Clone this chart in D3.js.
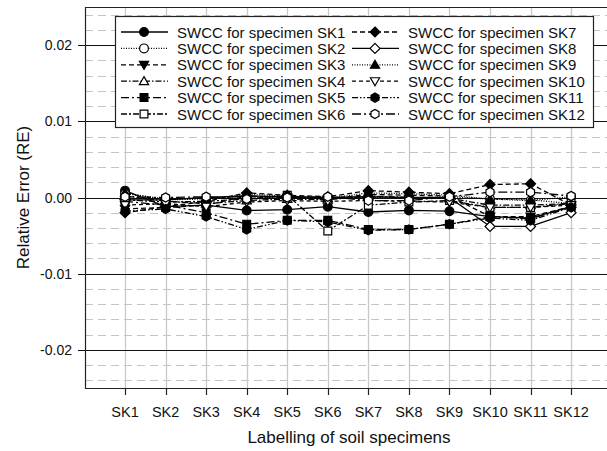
<!DOCTYPE html>
<html>
<head>
<meta charset="utf-8">
<script src="https://cdn.jsdelivr.net/npm/d3@7"></script>
<style>
  body { margin: 0; background: white; }
  svg { display: block; font-family: "Liberation Sans", Arial, sans-serif; }
</style>
</head>
<body>
<svg id="chart"></svg>
<script>
// categories on the x axis
var specimens = ["SK1","SK2","SK3","SK4","SK5","SK6","SK7","SK8","SK9","SK10","SK11","SK12"];
var yTicks = [-0.02, -0.01, 0.00, 0.01, 0.02];

// relative error for each SWCC
var sk1  = [ 0.0009,-0.0012,-0.0010,-0.0017,-0.0016,-0.0012,-0.0019,-0.0017,-0.0018,-0.0025,-0.0027,-0.0012];
var sk2  = [ 0.0005,-0.0002,-0.0001,-0.0001, 0.0001,-0.0001, 0.0000,-0.0001, 0.0001,-0.0002,-0.0004, 0.0001];
var sk3  = [-0.0015,-0.0013,-0.0010, 0.0002, 0.0000,-0.0002, 0.0004, 0.0003, 0.0002,-0.0025,-0.0025,-0.0012];
var sk4  = [ 0.0002,-0.0005,-0.0008,-0.0004,-0.0002,-0.0003, 0.0002, 0.0000,-0.0001,-0.0010,-0.0010,-0.0008];
var sk5  = [-0.0005,-0.0010,-0.0020,-0.0035,-0.0030,-0.0030,-0.0042,-0.0042,-0.0035,-0.0025,-0.0028,-0.0012];
var sk6  = [-0.0003,-0.0006,-0.0005,-0.0002, 0.0003,-0.0044,-0.0010,-0.0006,-0.0004,-0.0013,-0.0013,-0.0008];
var sk7  = [-0.0020,-0.0012,-0.0005, 0.0006, 0.0003, 0.0001, 0.0009, 0.0007, 0.0005, 0.0017, 0.0018,-0.0010];
var sk8  = [-0.0003,-0.0003, 0.0000, 0.0002, 0.0001, 0.0000, 0.0001, 0.0000, 0.0000,-0.0038,-0.0038,-0.0020];
var sk9  = [ 0.0006,-0.0003,-0.0002, 0.0004, 0.0002,-0.0001, 0.0006, 0.0005, 0.0003,-0.0002,-0.0003,-0.0008];
var sk10 = [-0.0010,-0.0008,-0.0012,-0.0006,-0.0004,-0.0005,-0.0004,-0.0005,-0.0006,-0.0013,-0.0013,-0.0010];
var sk11 = [-0.0018,-0.0015,-0.0025,-0.0042,-0.0030,-0.0032,-0.0043,-0.0042,-0.0035,-0.0027,-0.0030,-0.0013];
var sk12 = [ 0.0001, 0.0000, 0.0001,-0.0002, 0.0000, 0.0001,-0.0004,-0.0004, 0.0001, 0.0007, 0.0007, 0.0002];

var seriesNames = ["SWCC for specimen SK1","SWCC for specimen SK2","SWCC for specimen SK3",
                   "SWCC for specimen SK4","SWCC for specimen SK5","SWCC for specimen SK6",
                   "SWCC for specimen SK7","SWCC for specimen SK8","SWCC for specimen SK9",
                   "SWCC for specimen SK10","SWCC for specimen SK11","SWCC for specimen SK12"];
var seriesValues = [sk1, sk2, sk3, sk4, sk5, sk6, sk7, sk8, sk9, sk10, sk11, sk12];

// custom marker shapes (r = half width in px)
function hexagon(r) {
  return function(p) {
    for (var i = 0; i < 6; i++) {
      var a = Math.PI / 6 + i * Math.PI / 3;
      if (i === 0) p.moveTo(r * Math.cos(a), r * Math.sin(a));
      else p.lineTo(r * Math.cos(a), r * Math.sin(a));
    }
    p.closePath();
  };
}
function circle(r) { return function(p) { p.moveTo(r, 0); p.arc(0, 0, r, 0, 2 * Math.PI); }; }
function square(r) { return function(p) { p.rect(-r, -r, 2 * r, 2 * r); }; }
function diamond(r) {
  return function(p) { p.moveTo(0, -r); p.lineTo(r, 0); p.lineTo(0, r); p.lineTo(-r, 0); p.closePath(); };
}
function triUp(r) {
  return function(p) { p.moveTo(0, -r); p.lineTo(r, r * 0.75); p.lineTo(-r, r * 0.75); p.closePath(); };
}
function triDown(r) {
  return function(p) { p.moveTo(0, r); p.lineTo(r, -r * 0.75); p.lineTo(-r, -r * 0.75); p.closePath(); };
}
function markerPath(fn) { var p = d3.path(); fn(p); return p.toString(); }

// marker + line style per series
var styles = [
  {shape: circle(4.4),  fill: "black", dash: null},
  {shape: circle(4.4),  fill: "white", dash: "1,1.5"},
  {shape: triDown(4.6), fill: "black", dash: "5,3"},
  {shape: triUp(4.6),   fill: "white", dash: "6,2,1.5,2"},
  {shape: square(3.9),  fill: "black", dash: "8,3,2,3"},
  {shape: square(3.9),  fill: "white", dash: "6,2,2,2"},
  {shape: diamond(5),   fill: "black", dash: "5,3"},
  {shape: diamond(5),   fill: "white", dash: null},
  {shape: triUp(4.6),   fill: "black", dash: "1,1.5"},
  {shape: triDown(4.6), fill: "white", dash: "4,3"},
  {shape: hexagon(4.6), fill: "black", dash: "6,2,1.5,2,1.5,2"},
  {shape: hexagon(4.6), fill: "white", dash: "9,3,2,3"}
];

var W = 607, H = 451;
var margin = {top: 7, left: 85, bottom: 63};
var plotBottom = H - margin.bottom;

var svg = d3.select("#chart").attr("width", W).attr("height", H);

var x = d3.scaleLinear().domain([0, 13]).range([margin.left - 0.5, margin.left - 0.5 + 13 * 40.55]);
var y = d3.scaleLinear().domain([-0.025, 0.025]).range([plotBottom, margin.top]);

var g = svg.append("g");

// minor dashed grid every 0.002
var minor = d3.range(-12, 13).map(d => d * 0.002).filter(d => Math.abs(Math.round(d * 1000)) % 10 !== 0);
g.selectAll(".minor").data(minor).enter().append("line")
  .attr("x1", margin.left).attr("x2", W)
  .attr("y1", d => Math.round(y(d)) + 0.5).attr("y2", d => Math.round(y(d)) + 0.5)
  .attr("stroke", "#c4c4c4").attr("stroke-width", 1.2)
  .attr("stroke-dasharray", "8,5");

// vertical grid at each specimen
g.selectAll(".vgrid").data(specimens).enter().append("line")
  .attr("x1", (d, i) => Math.round(x(i + 1)) + 0.5).attr("x2", (d, i) => Math.round(x(i + 1)) + 0.5)
  .attr("y1", margin.top).attr("y2", plotBottom)
  .attr("stroke", "#c8c8c8").attr("stroke-width", 1.3);

// major black grid lines, running out as tick marks on the left
g.selectAll(".major").data(yTicks).enter().append("line")
  .attr("x1", margin.left - 7).attr("x2", W)
  .attr("y1", d => Math.round(y(d)) + 0.5).attr("y2", d => Math.round(y(d)) + 0.5)
  .attr("stroke", "#111").attr("stroke-width", 1.1);

// frame
g.append("path")
  .attr("d", "M" + W + "," + (margin.top + 0.5) + "H" + (margin.left + 0.5) + "V" + (plotBottom + 0.5) + "H" + W)
  .attr("fill", "none").attr("stroke", "#222").attr("stroke-width", 1.2);

// x ticks
g.selectAll(".xtick").data(specimens).enter().append("line")
  .attr("x1", (d, i) => Math.round(x(i + 1)) + 0.5).attr("x2", (d, i) => Math.round(x(i + 1)) + 0.5)
  .attr("y1", plotBottom).attr("y2", plotBottom + 7)
  .attr("stroke", "#222").attr("stroke-width", 1.2);

g.selectAll(".xlabel").data(specimens).enter().append("text")
  .attr("x", (d, i) => x(i + 1)).attr("y", plotBottom + 29)
  .attr("text-anchor", "middle").attr("font-size", 14.5).attr("fill", "#111")
  .text(d => d);

g.selectAll(".ylabel").data(yTicks).enter().append("text")
  .attr("x", 72).attr("y", d => y(d) + 5)
  .attr("text-anchor", "end").attr("font-size", 14).attr("fill", "#111")
  .text(d => d.toFixed(2));

svg.append("text")
  .attr("x", 349).attr("y", 443)
  .attr("text-anchor", "middle").attr("font-size", 17).attr("fill", "#111")
  .text("Labelling of soil specimens");

svg.append("text")
  .attr("transform", "translate(29," + y(0) + ") rotate(-90)")
  .attr("text-anchor", "middle").attr("font-size", 17).attr("fill", "#111")
  .text("Relative Error (RE)");

// series
var line = d3.line().x((d, i) => x(i + 1)).y(d => y(d));
var series = g.selectAll(".series").data(seriesValues).enter().append("g");

series.append("path")
  .attr("d", d => line(d))
  .attr("fill", "none").attr("stroke", "black").attr("stroke-width", 1.3)
  .attr("stroke-dasharray", (d, i) => styles[i].dash);

series.each(function(vals, si) {
  d3.select(this).selectAll("path.m").data(vals).enter().append("path")
    .attr("class", "m")
    .attr("transform", (d, i) => "translate(" + x(i + 1) + "," + y(d) + ")")
    .attr("d", markerPath(styles[si].shape))
    .attr("fill", styles[si].fill).attr("stroke", "black").attr("stroke-width", 1.2);
});

// legend
var lg = svg.append("g");
lg.append("rect")
  .attr("x", 115.5).attr("y", 16.5).attr("width", 478).attr("height", 111)
  .attr("fill", "white").attr("stroke", "#222").attr("stroke-width", 1.2);

var items = lg.selectAll(".item").data(seriesNames).enter().append("g")
  .attr("transform", (d, i) => "translate(" + (i < 6 ? 0 : 231) + "," + (32 + (i % 6) * 16.4) + ")");

items.append("line")
  .attr("x1", 121).attr("x2", 168).attr("y1", 0).attr("y2", 0)
  .attr("stroke", "black").attr("stroke-width", 1.3)
  .attr("stroke-dasharray", (d, i) => styles[i].dash);

items.append("path")
  .attr("transform", "translate(144,0)")
  .attr("d", (d, i) => markerPath(styles[i].shape))
  .attr("fill", (d, i) => styles[i].fill).attr("stroke", "black").attr("stroke-width", 1.2);

items.append("text")
  .attr("x", 177).attr("y", 5.5)
  .attr("font-size", 15).attr("fill", "#111")
  .text(d => d);
</script>
</body>
</html>
